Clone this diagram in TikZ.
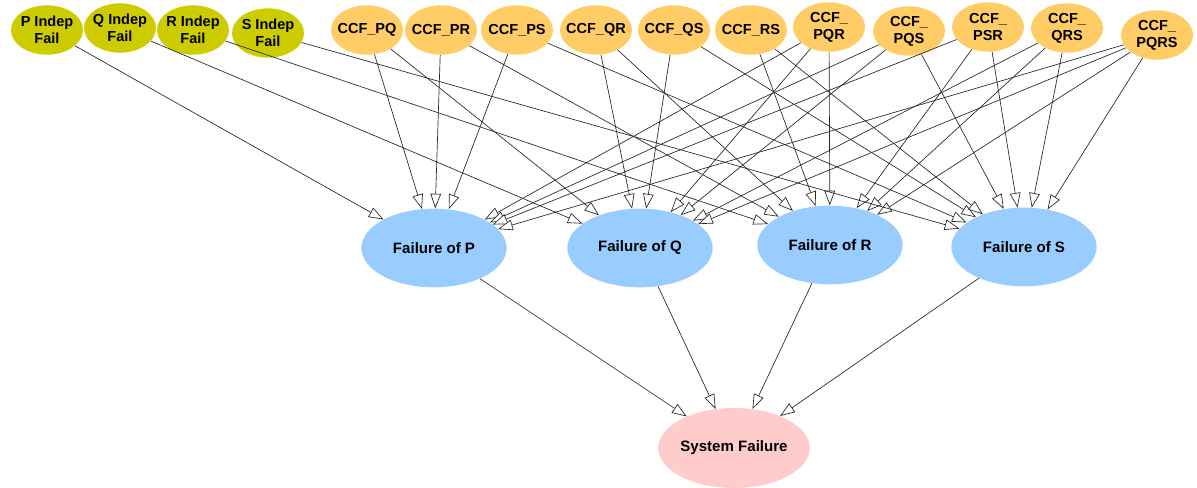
\documentclass[tikz,border=0pt]{standalone}
\usepackage{fontspec}
\setmainfont{Liberation Sans}
\usetikzlibrary{arrows.meta,shapes.geometric}
\definecolor{indepfill}{HTML}{CCCC00}
\definecolor{ccffill}{HTML}{FFCC66}
\definecolor{failfill}{HTML}{99CCFF}
\definecolor{sysfill}{HTML}{FFCCCC}
\tikzset{
  basenode/.style={ellipse,inner sep=0pt,align=center},
  topnode/.style={basenode,inner xsep=-6pt,inner ysep=-4pt,minimum width=54pt,minimum height=37pt,
    font=\fontsize{10.9}{12.8}\selectfont\bfseries},
  indep/.style={topnode,fill=indepfill},
  ccf/.style={topnode,fill=ccffill},
  fail/.style={basenode,fill=failfill,minimum width=109pt,minimum height=59pt,
    font=\fontsize{11.3}{13}\selectfont\bfseries},
  sysnode/.style={basenode,fill=sysfill,minimum width=110pt,minimum height=60pt,
    font=\fontsize{11.3}{13}\selectfont\bfseries},
  link/.style={-{Triangle[length=11pt,width=8pt,fill=white]},line width=0.5pt,draw=black!85}
}

\begin{document}
\begin{tikzpicture}[x=0.75pt,y=-0.75pt]
  \useasboundingbox (0,0) rectangle (1197,488);
  % independent failures
  \node[indep] (pind) at (47,30) {P Indep\\Fail};
  \node[indep] (qind) at (120,28) {Q Indep\\Fail};
  \node[indep] (rind) at (193,30) {R Indep\\Fail};
  \node[indep] (sind) at (268,33) {S Indep\\Fail};
  % common cause failures
  \node[ccf] (pq) at (367,30) {CCF\_PQ};
  \node[ccf] (pr) at (441,30) {CCF\_PR};
  \node[ccf] (ps) at (517,30) {CCF\_PS};
  \node[ccf] (qr) at (596,30) {CCF\_QR};
  \node[ccf] (qs) at (674,30) {CCF\_QS};
  \node[ccf] (rs) at (751,30) {CCF\_RS};
  \node[ccf] (pqr) at (829,27) {CCF\_\\PQR};
  \node[ccf] (pqs) at (909,31) {CCF\_\\PQS};
  \node[ccf] (psr) at (988,27) {CCF\_\\PSR};
  \node[ccf] (qrs) at (1067,28) {CCF\_\\QRS};
  \node[ccf] (pqrs) at (1157,35) {CCF\_\\PQRS};
  % component failures
  \node[fail] (failp) at (434,248) {Failure of P};
  \node[fail] (failq) at (640,248) {Failure of Q};
  \node[fail] (failr) at (830,245) {Failure of R};
  \node[fail] (fails) at (1024,247) {Failure of S};
  \node[sysnode] (sysfail) at (734,448) {System Failure};
  % links
  \foreach \src/\dst in {pind/failp,pq/failp,pr/failp,ps/failp,pqr/failp,pqs/failp,psr/failp,pqrs/failp,
      qind/failq,pq/failq,qr/failq,qs/failq,pqr/failq,pqs/failq,qrs/failq,pqrs/failq,
      rind/failr,pr/failr,qr/failr,rs/failr,pqr/failr,psr/failr,qrs/failr,pqrs/failr,
      sind/fails,ps/fails,qs/fails,rs/fails,pqs/fails,psr/fails,qrs/fails,pqrs/fails,
      failp/sysfail,failq/sysfail,failr/sysfail,fails/sysfail}
    \draw[link] (\src) -- (\dst);
\end{tikzpicture}
\end{document}
